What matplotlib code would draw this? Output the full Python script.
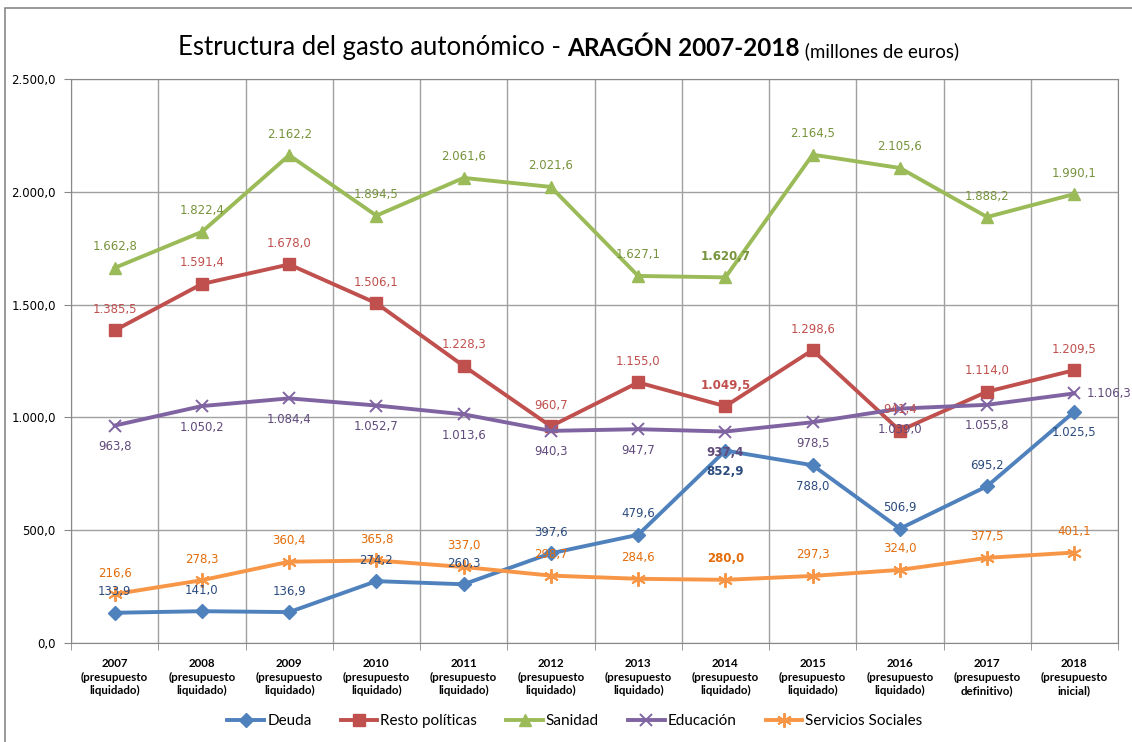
import matplotlib.pyplot as plt
from matplotlib.patches import Rectangle
from matplotlib.ticker import FuncFormatter

# ---- datos (millones de euros) ----
anios = ["2007\n(presupuesto\nliquidado)", "2008\n(presupuesto\nliquidado)",
         "2009\n(presupuesto\nliquidado)", "2010\n(presupuesto\nliquidado)",
         "2011\n(presupuesto\nliquidado)", "2012\n(presupuesto\nliquidado)",
         "2013\n(presupuesto\nliquidado)", "2014\n(presupuesto\nliquidado)",
         "2015\n(presupuesto\nliquidado)", "2016\n(presupuesto\nliquidado)",
         "2017\n(presupuesto\ndefinitivo)", "2018\n(presupuesto\ninicial)"]

deuda = [133.9, 141.0, 136.9, 274.2, 260.3, 397.6, 479.6, 852.9, 788.0, 506.9, 695.2, 1025.5]
resto = [1385.5, 1591.4, 1678.0, 1506.1, 1228.3, 960.7, 1155.0, 1049.5, 1298.6, 941.4, 1114.0, 1209.5]
sanidad = [1662.8, 1822.4, 2162.2, 1894.5, 2061.6, 2021.6, 1627.1, 1620.7, 2164.5, 2105.6, 1888.2, 1990.1]
educacion = [963.8, 1050.2, 1084.4, 1052.7, 1013.6, 940.3, 947.7, 937.4, 978.5, 1039.0, 1055.8, 1106.3]
servicios = [216.6, 278.3, 360.4, 365.8, 337.0, 298.7, 284.6, 280.0, 297.3, 324.0, 377.5, 401.1]

# posición de la etiqueta: 1 arriba, -1 abajo, 0 a la derecha
pos_deuda = [1, 1, 1, 1, 1, 1, 1, -1, -1, 1, 1, -1]
pos_resto = [1] * 12
pos_sanidad = [1] * 12
pos_educacion = [-1] * 11 + [0]
pos_servicios = [1] * 12

series = [
    ("Deuda", deuda, pos_deuda, "#4F81BD", "#2B4B7E", "D", 7.5),
    ("Resto políticas", resto, pos_resto, "#C0504D", "#C0504D", "s", 8.5),
    ("Sanidad", sanidad, pos_sanidad, "#9BBB59", "#77933C", "^", 9),
    ("Educación", educacion, pos_educacion, "#8064A2", "#604A7B", "x", 8.5),
    ("Servicios Sociales", servicios, pos_servicios, "#F79646", "#E46C0A", (6, 2, 0), 10.5),
]


def fmt_es(v, decimales=1):
    s = f"{v:,.{decimales}f}"
    return s.replace(",", "X").replace(".", ",").replace("X", ".")


fig = plt.figure(figsize=(11.32, 7.42), dpi=100)
ax = fig.add_axes([71 / 1132, 99 / 742, 1047 / 1132, 564 / 742])

# marco exterior del gráfico
fig.patches.append(Rectangle((5 / 1132, -0.1), 1.2, (742 - 8) / 742 + 0.1,
                             transform=fig.transFigure, fill=False,
                             edgecolor="#888888", linewidth=1.2))

x = list(range(len(anios)))
for nombre, vals, pos, color, color_txt, marker, ms in series:
    ax.plot(x, vals, color=color, linewidth=2.8, marker=marker, markersize=ms,
            markeredgewidth=1.4 if marker in ("x", (6, 2, 0)) else 1,
            markeredgecolor=color, label=nombre, zorder=3)
    for i, (v, p) in enumerate(zip(vals, pos)):
        negrita = "bold" if i == 7 else "normal"
        if p == 0:
            ax.annotate(fmt_es(v), (i, v), xytext=(12, 0), textcoords="offset pixels",
                        ha="left", va="center", fontsize=8.5, color=color_txt,
                        fontweight=negrita, zorder=4, annotation_clip=False)
        else:
            ax.annotate(fmt_es(v), (i, v), xytext=(0, 21 * p), textcoords="offset pixels",
                        ha="center", va="center", fontsize=8.5, color=color_txt,
                        fontweight=negrita, zorder=4)

ax.set_xlim(-0.5, len(anios) - 0.5)
ax.set_ylim(0, 2500)
ax.set_yticks([0, 500, 1000, 1500, 2000, 2500])
ax.yaxis.set_major_formatter(FuncFormatter(lambda v, _: fmt_es(v)))
ax.tick_params(axis="y", labelsize=8.5, length=5, color="#888888", pad=6)

ax.set_xticks(x)
ax.set_xticklabels(anios, fontsize=8.3, fontweight="bold", family="Lato", linespacing=1.25)
ax.set_xticks([i + 0.5 for i in range(-1, len(anios))], minor=True)
ax.tick_params(axis="x", which="major", length=0, pad=11)
ax.tick_params(axis="x", which="minor", length=5, color="#888888")

ax.grid(axis="y", which="major", color="#A0A0A0", linewidth=1)
ax.grid(axis="x", which="minor", color="#A0A0A0", linewidth=1)
ax.set_axisbelow(True)
for sp in ax.spines.values():
    sp.set_color("#888888")

# título con partes de distinto estilo
t1 = fig.text(178 / 1132, 1 - 55 / 742, "Estructura del gasto autonómico - ",
              fontsize=18.5, family="Lato", va="baseline")
t2 = ax.annotate("ARAGÓN 2007-2018", xycoords=t1, xy=(1, 0), va="bottom",
                 fontsize=17.5, family="Lato", fontweight="bold")
ax.annotate(" (millones de euros)", xycoords=t2, xy=(1, 0), va="bottom",
            fontsize=13.5, family="Lato")

fig.legend(loc="lower center", bbox_to_anchor=(0.508, 0.0), ncol=5, frameon=False,
           prop={"family": "Lato", "size": 11}, handlelength=2.4,
           handletextpad=0.2, columnspacing=1.9)

plt.savefig("out.png", dpi=100)
